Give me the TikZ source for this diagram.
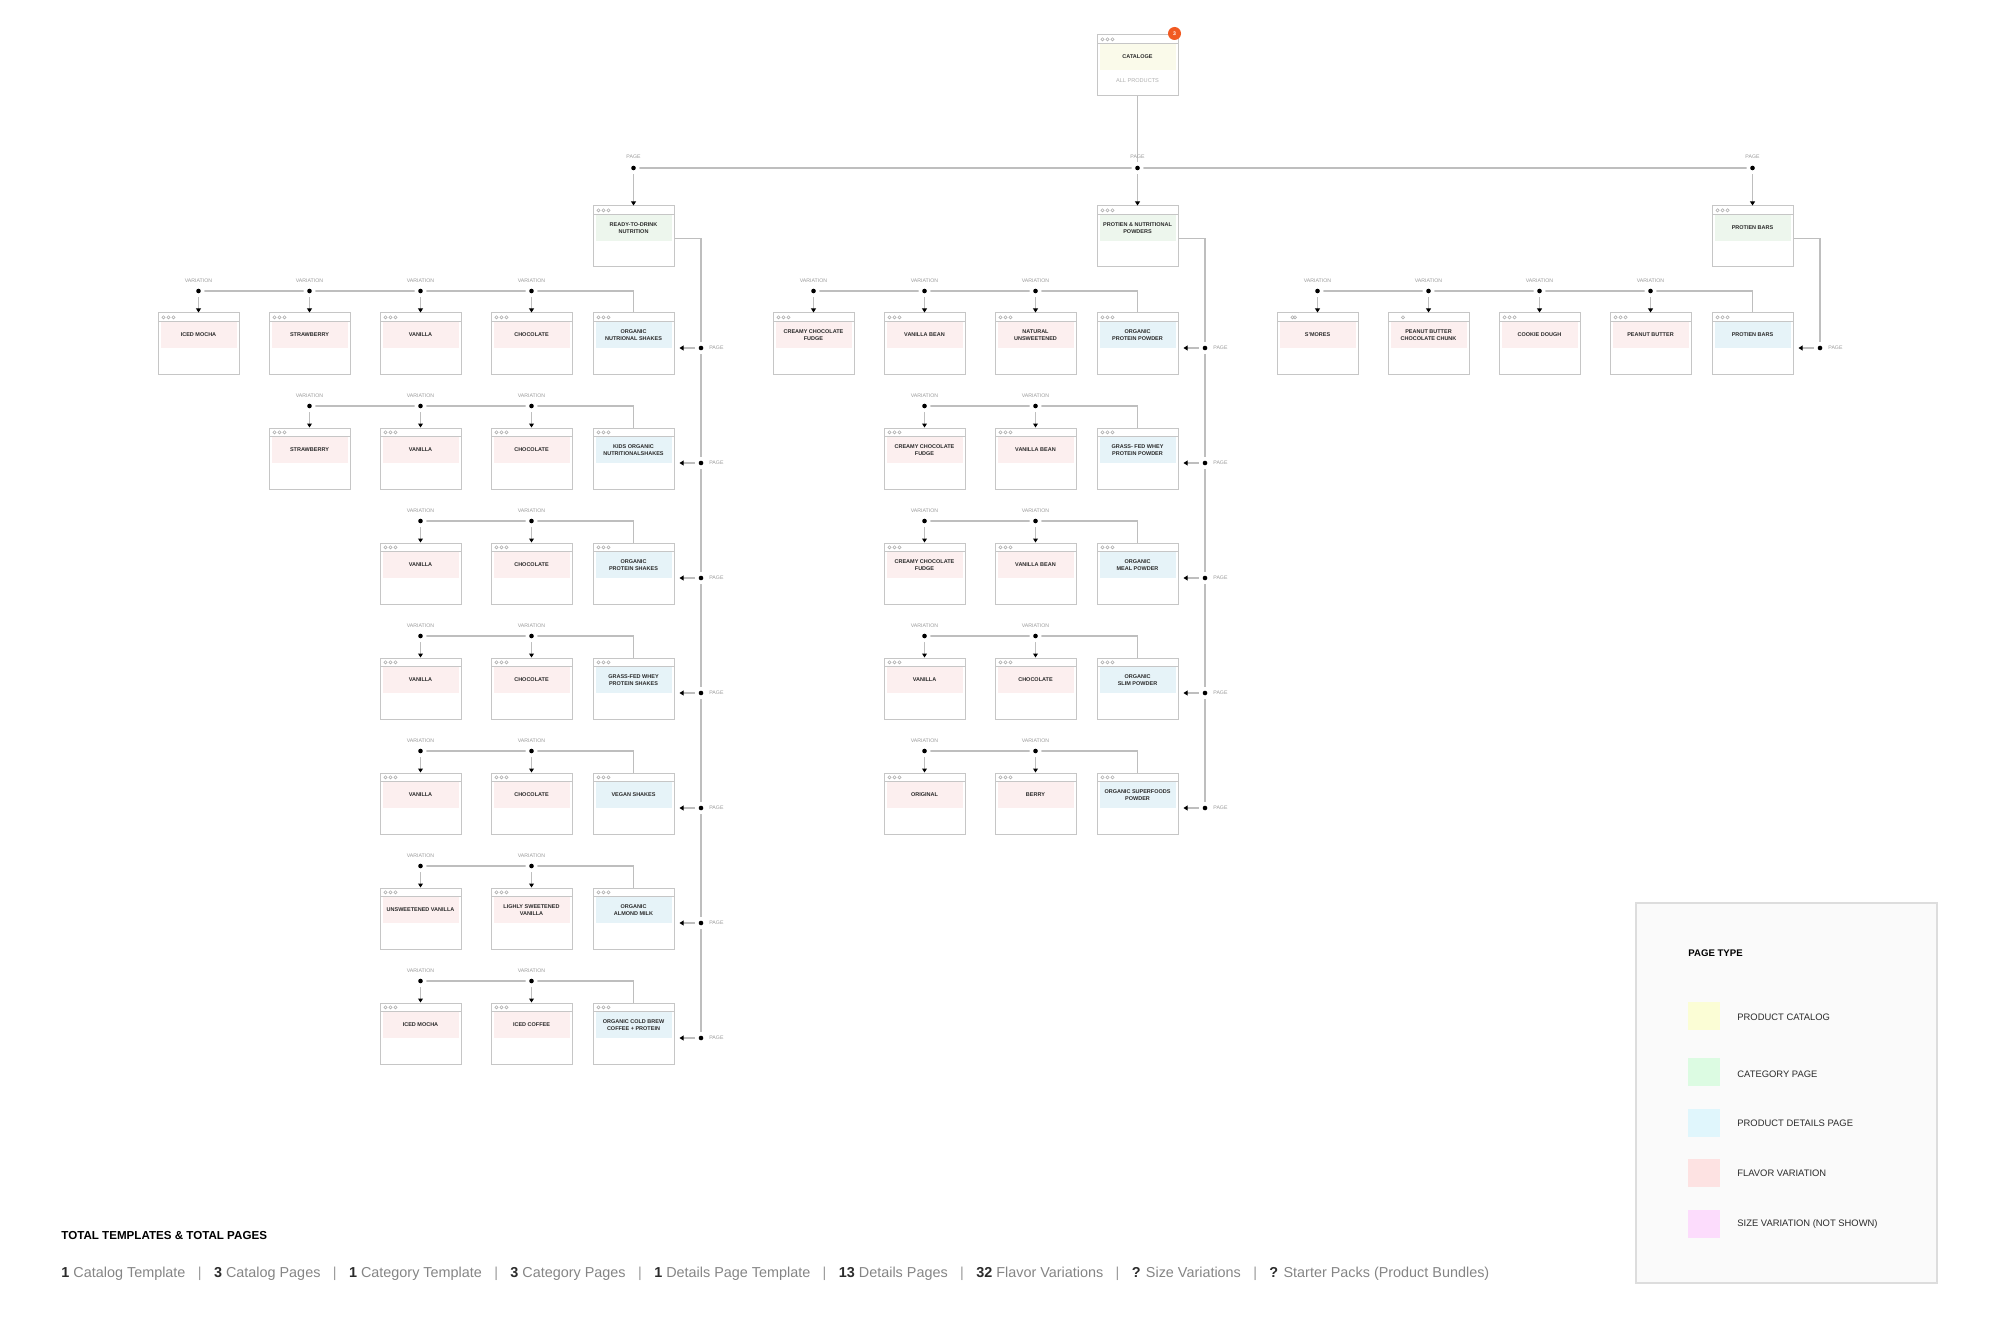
\documentclass[tikz,border=0pt]{standalone}
\usepackage{fontspec}
\setmainfont{Liberation Sans}
\usetikzlibrary{arrows.meta,calc}
\definecolor{linegray}{HTML}{BEBEBE}
\definecolor{boxgray}{HTML}{C6C6C6}
\definecolor{dotgray}{HTML}{B0B0B0}
\definecolor{lblgray}{HTML}{9A9A9A}
\definecolor{txt}{HTML}{2B2B2B}
\definecolor{catband}{HTML}{FAFAEA}
\definecolor{grpband}{HTML}{EDF6ED}
\definecolor{detband}{HTML}{E6F3F8}
\definecolor{flvband}{HTML}{FCEFEF}
\definecolor{swY}{HTML}{FBFDD5}
\definecolor{swG}{HTML}{DCFBE2}
\definecolor{swB}{HTML}{E0F6FC}
\definecolor{swP}{HTML}{FDE2E2}
\definecolor{swV}{HTML}{FCDCFC}
\definecolor{badge}{HTML}{F15A22}
\definecolor{legbg}{HTML}{FAFAFA}
\definecolor{legborder}{HTML}{DDDDDD}
\definecolor{statgray}{HTML}{858585}
\tikzset{
  pagebox/.style={draw=boxgray, line width=0.5pt, minimum width=40.5pt, minimum height=30.5pt, inner sep=0pt},
  boxtext/.style={text=txt, font=\fontsize{2.75pt}{3.3pt}\selectfont\bfseries, align=center, inner sep=0pt},
  lbl/.style={text=lblgray, font=\fontsize{2.6pt}{3pt}\selectfont, inner sep=0pt},
  conn/.style={draw=linegray, line width=0.55pt},
  arr/.style={conn, -{Triangle[length=2pt,width=2.4pt,color=black]}},
  pgarr/.style={arr, shorten >=2.5pt},
  swatch/.style={minimum width=16pt, minimum height=14pt, inner sep=0pt},
  leglbl/.style={anchor=west, inner sep=0pt, text=txt, font=\fontsize{4.7pt}{6pt}\selectfont},
}
\newcommand{\pbox}[5]{%
  \fill[#4] ($(#2,#3)+(2.5,9)$) rectangle ($(#2,#3)+(78.5,35)$);
  \node[pagebox] (#1) at ($(#2,#3)+(40.5,30.5)$) {};
  \draw[boxgray, line width=0.4pt] ($(#2,#3)+(0,8.5)$) -- ($(#2,#3)+(81,8.5)$);
  \foreach \hd in {5.5,10.5,15.5}{\draw[dotgray, line width=0.3pt] ($(#2,#3)+(\hd,4.3)$) circle[radius=0.8pt];}
  \node[boxtext] (#1-t) at ($(#2,#3)+(40.5,22)$) {#5};
}
\newcommand{\dotat}[1]{\fill[white] (#1) circle[radius=3pt]; \fill[black] (#1) circle[radius=1.15pt];}
\newcommand{\vrow}[6]{%
  \pbox{#1d}{#4}{#2}{detband}{#5}
  \coordinate (#1first) at (#3+40.5,#2-22);
  \draw[conn] (#1first) -- (#1first -| #1d.north) -- (#1d.north);
  \foreach \vx/\vt in {#6}{%
    \pbox{#1v\vx}{\vx}{#2}{flvband}{\vt}
    \coordinate (#1p\vx) at (\vx+40.5,#2-22);
    \draw[arr] (#1p\vx) -- (#1v\vx.north);
    \node[lbl] (#1l\vx) at (\vx+40.5,#2-32) {VARIATION};
    \dotat{#1p\vx}
  }
  \coordinate (#1pg) at (#4+108,#2+35);
  \draw[pgarr] (#1pg) -- (#1pg -| #1d.east);
  \node[lbl, anchor=west] (#1pl) at ($(#1pg)+(8,0)$) {PAGE};
  \dotat{#1pg}
}
\newcommand{\statitem}[2]{\textbf{\color{txt}#1} #2}
\newcommand{\statsep}{\hspace{6.2pt}{\color{lblgray}|}\hspace{6.2pt}}
\begin{document}
\begin{tikzpicture}[x=0.5pt,y=-0.5pt]
\useasboundingbox (0,0) rectangle (2000,1342);
% catalog
\pbox{cat}{1097}{35}{catband}{CATALOGE}
\node[lbl, text=lblgray!80, font=\fontsize{2.8pt}{3pt}\selectfont] (allp) at (1137.5,81) {ALL PRODUCTS};
\node[circle, fill=badge, minimum size=6.5pt, inner sep=0pt, text=white, font=\fontsize{2.6pt}{3pt}\selectfont\bfseries] (badge) at ($(cat.north east)+(-4,-1)$) {3};
% categories
\pbox{catL}{593}{206}{grpband}{READY-TO-DRINK\\NUTRITION}
\pbox{catM}{1097}{206}{grpband}{PROTIEN \& NUTRITIONAL\\POWDERS}
\pbox{catR}{1712}{206}{grpband}{PROTIEN BARS}
\coordinate (tL) at (633.5,168);
\coordinate (tM) at (1137.5,168);
\coordinate (tR) at (1752.5,168);
\draw[conn] (tL) -- (tR);
\draw[conn] (cat.south) -- (tM);
\draw[arr] (tL) -- (catL.north);
\draw[arr] (tM) -- (catM.north);
\draw[arr] (tR) -- (catR.north);
\node[lbl] (ptL) at (633.5,157) {PAGE};
\node[lbl] (ptM) at (1137.5,157) {PAGE};
\node[lbl] (ptR) at (1752.5,157) {PAGE};
\dotat{tL}\dotat{tM}\dotat{tR}
% trunks
\coordinate (Lbot) at (701,1038);
\coordinate (Mbot) at (1205,808);
\coordinate (Rbot) at (1820,348);
\draw[conn] ($(catL.north east)+(0,33)$) -| (Lbot);
\draw[conn] ($(catM.north east)+(0,33)$) -| (Mbot);
\draw[conn] ($(catR.north east)+(0,33)$) -| (Rbot);
% left group
\vrow{L1}{313}{158}{593}{ORGANIC\\NUTRIONAL SHAKES}{158/ICED MOCHA,269/STRAWBERRY,380/VANILLA,491/CHOCOLATE}
\vrow{L2}{428}{269}{593}{KIDS ORGANIC\\NUTRITIONALSHAKES}{269/STRAWBERRY,380/VANILLA,491/CHOCOLATE}
\vrow{L3}{543}{380}{593}{ORGANIC\\PROTEIN SHAKES}{380/VANILLA,491/CHOCOLATE}
\vrow{L4}{658}{380}{593}{GRASS-FED WHEY\\PROTEIN SHAKES}{380/VANILLA,491/CHOCOLATE}
\vrow{L5}{773}{380}{593}{VEGAN SHAKES}{380/VANILLA,491/CHOCOLATE}
\vrow{L6}{888}{380}{593}{ORGANIC\\ALMOND MILK}{380/UNSWEETENED VANILLA,491/{LIGHLY SWEETENED\\VANILLA}}
\vrow{L7}{1003}{380}{593}{ORGANIC COLD BREW\\COFFEE + PROTEIN}{380/ICED MOCHA,491/ICED COFFEE}
% middle group
\vrow{M1}{313}{773}{1097}{ORGANIC\\PROTEIN POWDER}{773/{CREAMY CHOCOLATE\\FUDGE},884/VANILLA BEAN,995/{NATURAL\\UNSWEETENED}}
\vrow{M2}{428}{884}{1097}{GRASS- FED WHEY\\PROTEIN POWDER}{884/{CREAMY CHOCOLATE\\FUDGE},995/VANILLA BEAN}
\vrow{M3}{543}{884}{1097}{ORGANIC\\MEAL POWDER}{884/{CREAMY CHOCOLATE\\FUDGE},995/VANILLA BEAN}
\vrow{M4}{658}{884}{1097}{ORGANIC\\SLIM POWDER}{884/VANILLA,995/CHOCOLATE}
\vrow{M5}{773}{884}{1097}{ORGANIC SUPERFOODS\\POWDER}{884/ORIGINAL,995/BERRY}
% right group
\vrow{R1}{313}{1277}{1712}{PROTIEN BARS}{1277/S'MORES,1388/{PEANUT BUTTER\\CHOCOLATE CHUNK},1499/COOKIE DOUGH,1610/PEANUT BUTTER}
% header quirks
\fill[white] (1279,314.5) rectangle (1300,320.5);
\draw[dotgray, line width=0.3pt] (1292.5,317.3) circle[radius=0.8pt] (1295,317.3) circle[radius=0.8pt];
\fill[white] (1390,314.5) rectangle (1411,320.5);
\draw[dotgray, line width=0.3pt] (1403,317.3) circle[radius=0.8pt];
% legend
\node[draw=legborder, fill=legbg, line width=0.6pt, minimum width=150.5pt, minimum height=190pt, inner sep=0pt] (legend) at (1786.5,1093) {};
\node[anchor=west, inner sep=0pt, text=black, font=\fontsize{4.8pt}{6pt}\selectfont\bfseries] (legtitle) at (1688,953) {PAGE TYPE};
\node[swatch, fill=swY] (sw1) at (1704,1016) {};
\node[swatch, fill=swG] (sw2) at (1704,1072) {};
\node[swatch, fill=swB] (sw3) at (1704,1123) {};
\node[swatch, fill=swP] (sw4) at (1704,1173) {};
\node[swatch, fill=swV] (sw5) at (1704,1224) {};
\node[leglbl] (lg1) at (1737,1017) {PRODUCT CATALOG};
\node[leglbl] (lg2) at (1737,1074) {CATEGORY PAGE};
\node[leglbl] (lg3) at (1737,1123) {PRODUCT DETAILS PAGE};
\node[leglbl] (lg4) at (1737,1173) {FLAVOR VARIATION};
\node[leglbl] (lg5) at (1737,1224) {SIZE VARIATION (NOT SHOWN)};
% totals
\node[anchor=west, inner sep=0pt, text=black, font=\fontsize{5.8pt}{7pt}\selectfont\bfseries] (title) at (61,1235) {TOTAL TEMPLATES \& TOTAL PAGES};
\node[anchor=west, inner sep=0pt, text=statgray, font=\fontsize{7.2pt}{9pt}\selectfont] (stats) at (61,1274) {\statitem{1}{Catalog Template}\statsep\statitem{3}{Catalog Pages}\statsep\statitem{1}{Category Template}\statsep\statitem{3}{Category Pages}\statsep\statitem{1}{Details Page Template}\statsep\statitem{13}{Details Pages}\statsep\statitem{32}{Flavor Variations}\statsep\statitem{?}{Size Variations}\statsep\statitem{?}{Starter Packs (Product Bundles)}};
\end{tikzpicture}
\end{document}
